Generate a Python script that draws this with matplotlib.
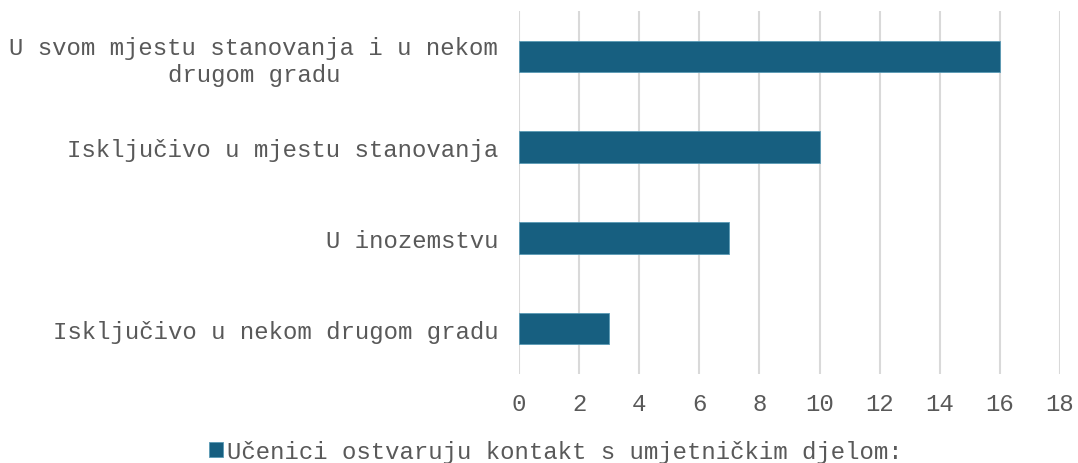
import matplotlib.pyplot as plt
import numpy as np

plt.rcParams['font.family'] = ['Liberation Mono', 'DejaVu Sans Mono']

categories = ['U svom mjestu stanovanja i u nekom\ndrugom gradu',
              'Isključivo u mjestu stanovanja',
              'U inozemstvu',
              'Isključivo u nekom drugom gradu']
values = [16, 10, 7, 3]
series_name = 'Učenici ostvaruju kontakt s umjetničkim djelom:'
xticks = np.arange(0, 19, 2)

text_col = '#595959'
bar_col = '#175f80'
fs = 17.3

fig = plt.figure(figsize=(10.78, 4.64), dpi=100)
ax = fig.add_axes([0.4815, 0.192, 0.5018, 0.782])

y = np.arange(len(categories))
ax.barh(y, values, height=0.35, color=bar_col, edgecolor='#5a9ab5',
        linewidth=0.6, label=series_name, zorder=3)

ax.set_ylim(len(categories) - 0.5, -0.5)
ax.set_xlim(0, 18)
ax.set_xticks(xticks)
ax.set_yticks(y)
ax.set_yticklabels(categories)
for lab in ax.get_yticklabels():
    lab.set_multialignment('center')
    lab.set_linespacing(1.25)

ax.grid(axis='x', color='#d9d9d9', linewidth=1.5, zorder=0)
for s in ax.spines.values():
    s.set_visible(False)
ax.tick_params(axis='both', length=0, labelsize=fs, labelcolor=text_col)
ax.tick_params(axis='x', pad=13)
ax.tick_params(axis='y', pad=15)

fig.legend(loc='lower center', bbox_to_anchor=(0.516, -0.047), frameon=False,
           fontsize=fs, labelcolor=text_col, handlelength=0.55,
           handleheight=0.55, handletextpad=0.2)

fig.savefig('out.png', dpi=100, facecolor='white')
